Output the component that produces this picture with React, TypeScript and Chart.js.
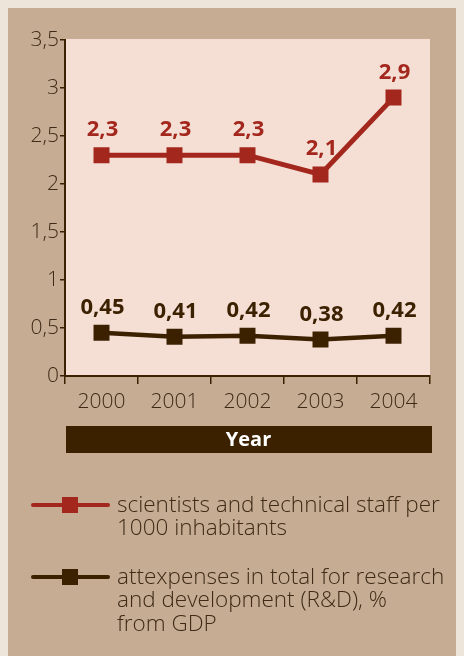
import React, { useEffect, useRef } from "react";
import { Chart, registerables } from "chart.js";

Chart.register(...registerables);

const years = ["2000", "2001", "2002", "2003", "2004"];
const scientists = [2.3, 2.3, 2.3, 2.1, 2.9];
const rdExpenses = [0.45, 0.41, 0.42, 0.38, 0.42];
const legendScientists = ["scientists and technical staff per", "1000 inhabitants"];
const legendExpenses = ["attexpenses in total for research", "and development (R&D), %", "from GDP"];
const axisTitle = "Year";

const RED = "#a3271d";
const DARK = "#3b2100";
const TEXT = "#3e2a16";
const TAN = "#c6ac93";
const PINK = "#f5dfd5";
const FONT = "'Open Sans', 'Noto Sans', sans-serif";

const fmt = (v: number) => String(v).replace(".", ",");

const decor = {
  id: "decor",
  beforeDraw(chart: any) {
    const { ctx, chartArea } = chart;
    ctx.save();
    ctx.fillStyle = TAN;
    ctx.fillRect(0, 0, chart.width, chart.height);
    ctx.fillStyle = PINK;
    ctx.fillRect(chartArea.left, chartArea.top - 1, chartArea.right - chartArea.left, chartArea.bottom - chartArea.top + 1);
    ctx.restore();
  },
  afterDatasetsDraw(chart: any) {
    const { ctx } = chart;
    ctx.save();
    ctx.font = `bold 22px ${FONT}`;
    ctx.textAlign = "center";
    ctx.textBaseline = "alphabetic";
    chart.data.datasets.forEach((ds: any, i: number) => {
      const meta = chart.getDatasetMeta(i);
      ctx.fillStyle = ds.borderColor;
      meta.data.forEach((pt: any, j: number) => {
        ctx.fillText(fmt(ds.data[j]), pt.x + 1, pt.y - 19);
      });
    });
    ctx.restore();
  },
  afterDraw(chart: any) {
    const { ctx, chartArea } = chart;
    ctx.save();
    // Year bar
    const barTop = chartArea.bottom + 50;
    ctx.fillStyle = DARK;
    ctx.fillRect(chartArea.left + 1, barTop, chartArea.right - chartArea.left + 1, 27);
    ctx.fillStyle = "#ffffff";
    ctx.font = `bold 20px ${FONT}`;
    ctx.textAlign = "center";
    ctx.textBaseline = "middle";
    ctx.fillText(axisTitle, (chartArea.left + chartArea.right) / 2 + 1, barTop + 14);

    // Legend
    const items = [
      { color: RED, lines: legendScientists, y: 497 },
      { color: DARK, lines: legendExpenses, y: 569 },
    ];
    items.forEach((it) => {
      ctx.strokeStyle = it.color;
      ctx.lineWidth = 4;
      ctx.lineCap = "round";
      ctx.beginPath();
      ctx.moveTo(26, it.y);
      ctx.lineTo(101, it.y);
      ctx.stroke();
      ctx.fillStyle = it.color;
      ctx.fillRect(55, it.y - 8, 16, 16);
      ctx.fillStyle = TEXT;
      ctx.font = `300 22.5px ${FONT}`;
      ctx.textAlign = "left";
      ctx.textBaseline = "alphabetic";
      it.lines.forEach((ln, k) => {
        ctx.fillText(ln, 110, it.y + 7 + k * 23.3);
      });
    });
    ctx.restore();
  },
};

export default function App() {
  const ref = useRef<HTMLCanvasElement>(null);
  useEffect(() => {
    document.body.style.background = "#ede4da";
    const chart = new Chart(ref.current!, {
      type: "line",
      data: {
        labels: years,
        datasets: [
          {
            label: legendScientists.join(" "),
            data: scientists,
            borderColor: RED,
            backgroundColor: RED,
            borderWidth: 5,
            pointStyle: "rect",
            pointRadius: 11.3,
            pointBorderWidth: 0,
            pointBackgroundColor: RED,
          },
          {
            label: legendExpenses.join(" "),
            data: rdExpenses,
            borderColor: DARK,
            backgroundColor: DARK,
            borderWidth: 4.5,
            pointStyle: "rect",
            pointRadius: 11.3,
            pointBorderWidth: 0,
            pointBackgroundColor: DARK,
          },
        ],
      },
      options: {
        responsive: false,
        animation: false,
        layout: { padding: { left: 0, top: 32, right: 34, bottom: 240 } },
        plugins: { legend: { display: false }, tooltip: { enabled: false } },
        scales: {
          x: {
            offset: true,
            afterFit: (s: any) => {
              s.height = 40;
            },
            border: { display: true, color: DARK, width: 2 },
            grid: { drawOnChartArea: false, drawTicks: true, tickLength: 8, color: DARK, lineWidth: 1.5, offset: true },
            ticks: { color: TEXT, font: { family: FONT, size: 21, weight: "300" }, padding: 5, maxRotation: 0 },
          },
          y: {
            min: 0,
            max: 3.5,
            afterFit: (s: any) => {
              s.width = 58;
            },
            border: { display: true, color: DARK, width: 2 },
            grid: { drawOnChartArea: false, drawTicks: true, tickLength: 5, color: DARK, lineWidth: 1.5 },
            ticks: {
              stepSize: 0.5,
              color: TEXT,
              font: { family: FONT, size: 21, weight: "300" },
              padding: 1,
              callback: (v: any) => fmt(Number(v)),
            },
          },
        },
      },
      plugins: [decor],
    });
    return () => chart.destroy();
  }, []);
  return (
    <canvas
      ref={ref}
      width={457}
      height={648}
      style={{ display: "block", width: 457, height: 648, marginLeft: -1 }}
    />
  );
}
